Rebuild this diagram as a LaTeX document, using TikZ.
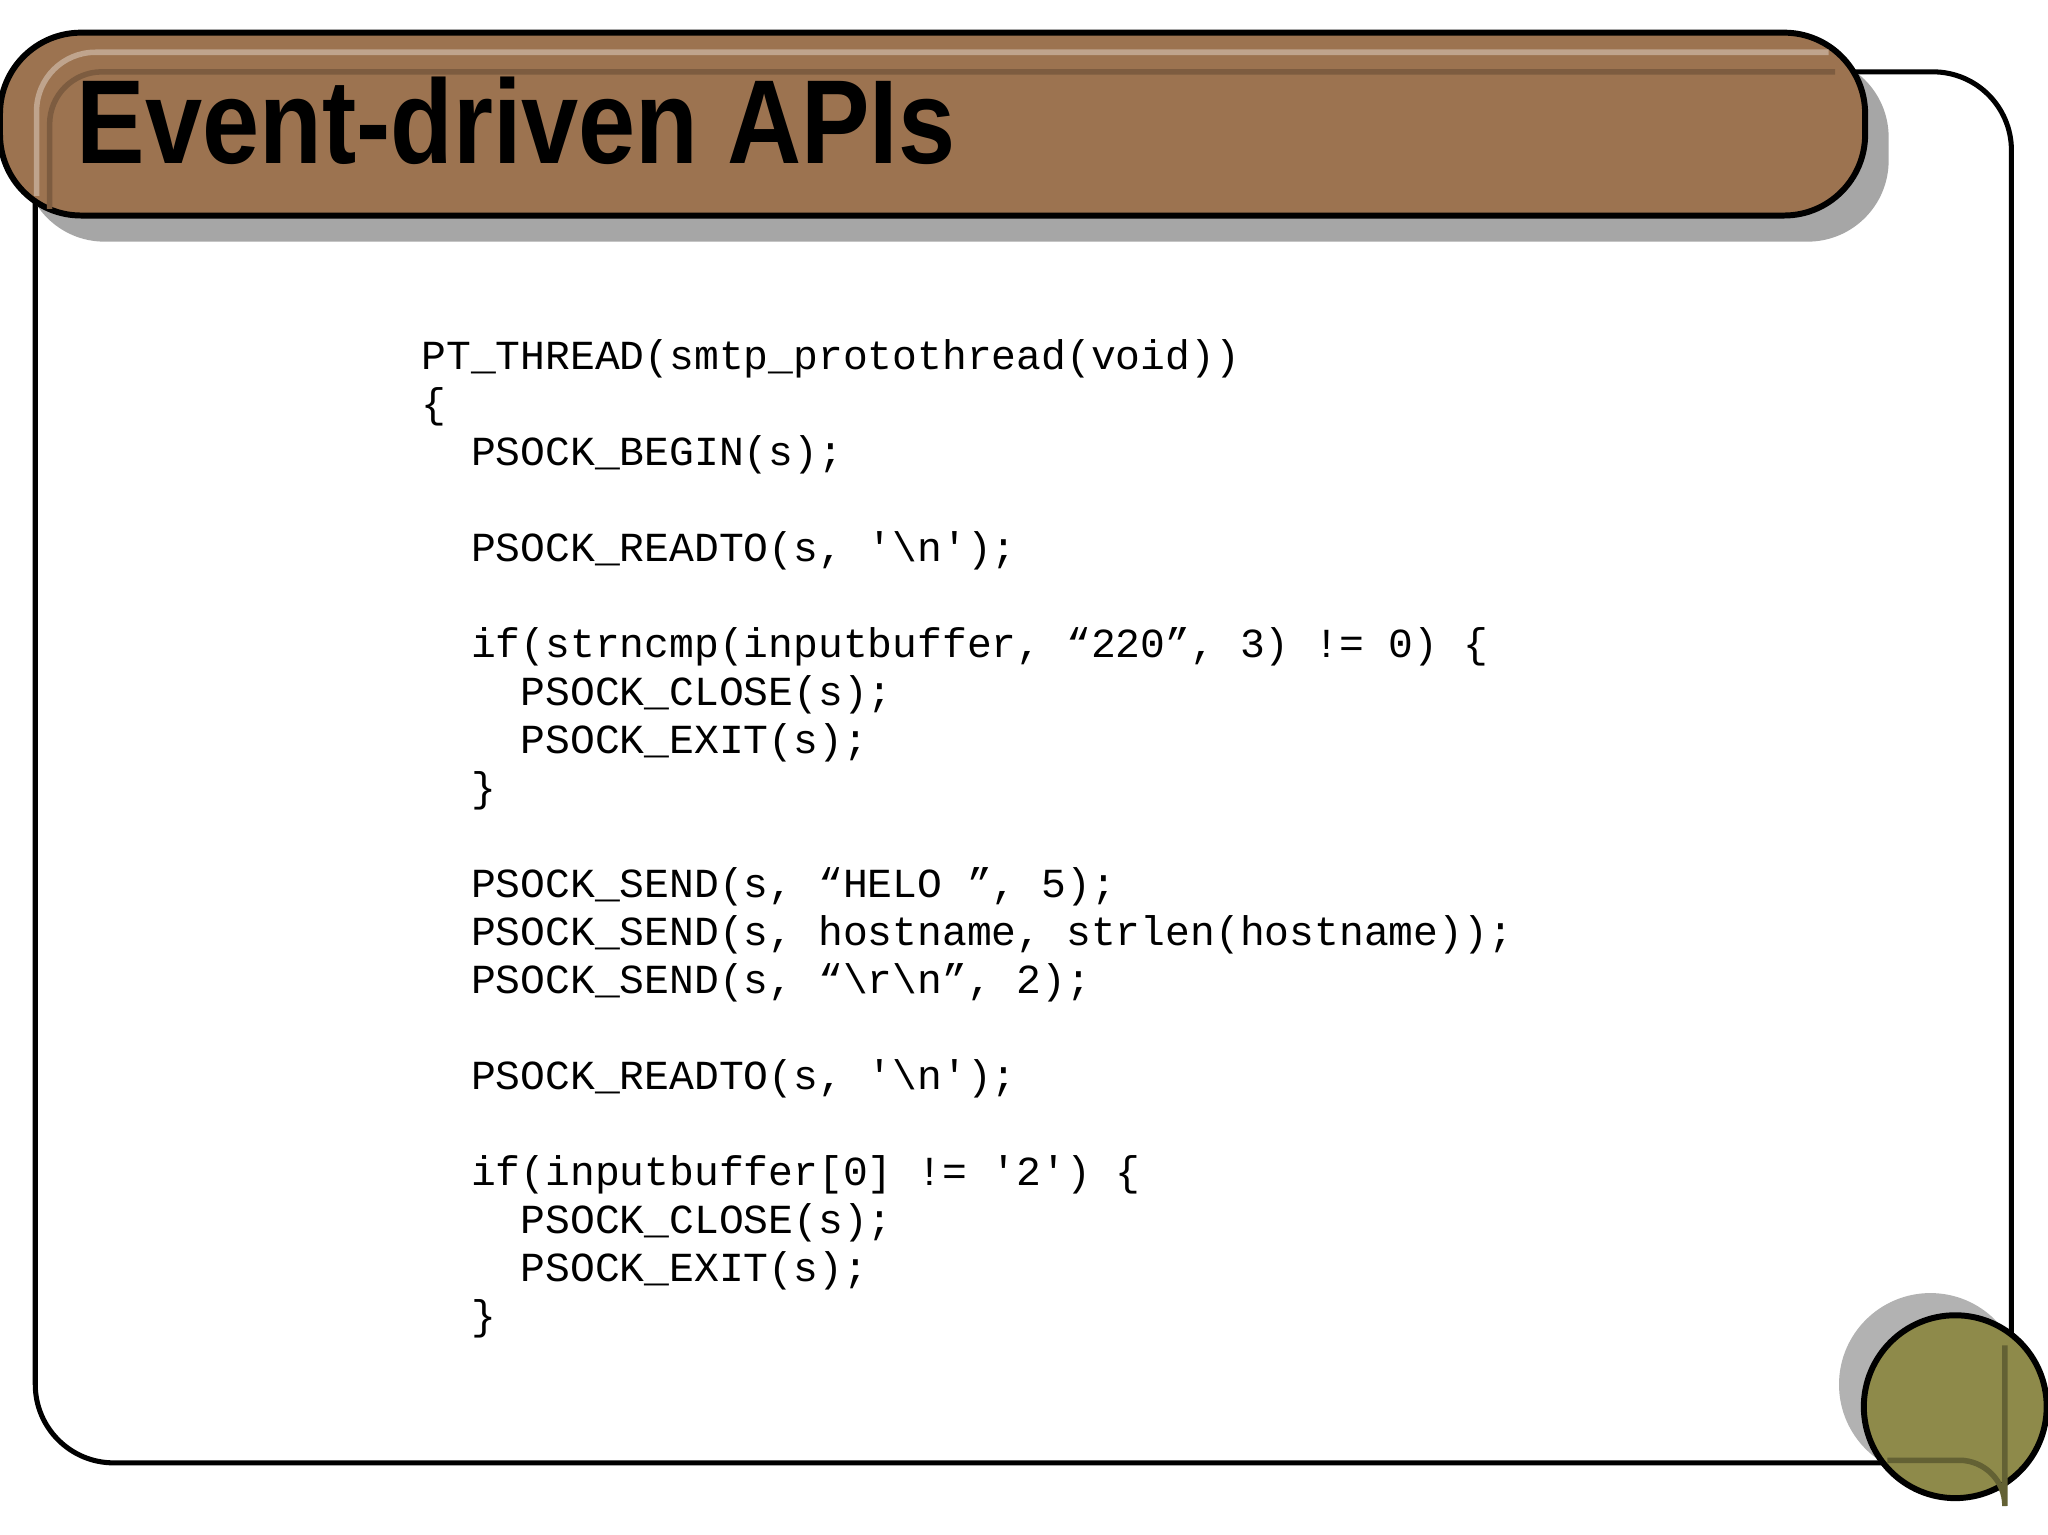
\documentclass[tikz,border=0pt]{standalone}
\usepackage{fontspec}
\setmainfont{Liberation Sans}
\setmonofont{Liberation Mono}
\begin{document}
\begin{tikzpicture}[x=0.01cm,y=-0.01cm,
  codeline/.style={anchor=base west,inner sep=0pt,font=\ttfamily\fontsize{9pt}{10pt}\selectfont}]
\useasboundingbox (0,0) rectangle (1568,1175);
\definecolor{brownbar}{HTML}{9C7350}
\definecolor{olive}{HTML}{8E8A4A}
% main panel
\draw[line width=1.1pt, fill=white, rounded corners=0.6cm] (27,55) rectangle (1540,1120);
% title bar
\fill[gray!70, rounded corners=0.62cm] (18,43) rectangle (1446,185);
\draw[line width=1.3pt, fill=brownbar, rounded corners=0.62cm] (0,25) rectangle (1428,165);
\draw[brownbar!65!white, line width=1.2pt, rounded corners=0.45cm] (28,150) -- (28,40) -- (1400,40);
\draw[brownbar!80!black, line width=1.2pt, rounded corners=0.4cm] (38,160) -- (38,55) -- (1405,55);
\node[anchor=base west, inner sep=0pt, font=\bfseries\fontsize{26pt}{30pt}\selectfont] (title) at (58,125) {\scalebox{0.86}[1]{Event-driven APIs}};
% circle
\fill[gray!60] (1478,1060) circle (70);
\draw[line width=1.3pt, fill=olive] (1497,1077) circle (70);
\draw[olive!70!black, line width=1.2pt] (1445,1118) -- (1500,1118) arc (-90:0:35) -- (1535,1030);
% code
\node[codeline] (l0) at (322,283) {PT\_THREAD(smtp\_protothread(void))};
\node[codeline] (l1) at (322,{283+1*36.75}) {\{};
\node[codeline] (l2) at (360,{283+2*36.75}) {PSOCK\_BEGIN(s);};
\node[codeline] (l4) at (360,{283+4*36.75}) {PSOCK\_READTO(s, \textquotesingle\textbackslash n\textquotesingle);};
\node[codeline] (l6) at (360,{283+6*36.75}) {if(strncmp(inputbuffer, “220”, 3) != 0) \{};
\node[codeline] (l7) at (398,{283+7*36.75}) {PSOCK\_CLOSE(s);};
\node[codeline] (l8) at (398,{283+8*36.75}) {PSOCK\_EXIT(s);};
\node[codeline] (l9) at (360,{283+9*36.75}) {\}};
\node[codeline] (l11) at (360,{283+11*36.75}) {PSOCK\_SEND(s, “HELO ”, 5);};
\node[codeline] (l12) at (360,{283+12*36.75}) {PSOCK\_SEND(s, hostname, strlen(hostname));};
\node[codeline] (l13) at (360,{283+13*36.75}) {PSOCK\_SEND(s, “\textbackslash r\textbackslash n”, 2);};
\node[codeline] (l15) at (360,{283+15*36.75}) {PSOCK\_READTO(s, \textquotesingle\textbackslash n\textquotesingle);};
\node[codeline] (l17) at (360,{283+17*36.75}) {if(inputbuffer[0] != \textquotesingle2\textquotesingle) \{};
\node[codeline] (l18) at (398,{283+18*36.75}) {PSOCK\_CLOSE(s);};
\node[codeline] (l19) at (398,{283+19*36.75}) {PSOCK\_EXIT(s);};
\node[codeline] (l20) at (360,{283+20*36.75}) {\}};
\end{tikzpicture}
\end{document}
